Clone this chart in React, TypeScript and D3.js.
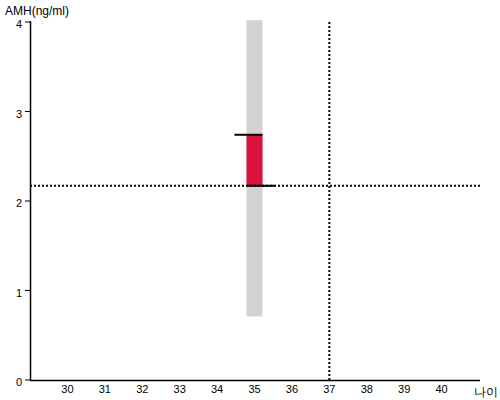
import React from "react";
import * as d3 from "d3";

const xTicks = [30, 31, 32, 33, 34, 35, 36, 37, 38, 39, 40];
const yTicks = [0, 1, 2, 3, 4];
const rangeAge = [35];
const rangeLow = [0.71];
const rangeHigh = [4.02];
const userAge = [35];
const userValue = [2.74];
const medianValue = [2.17];
const refAge = [37];
const xLabel = "나이";
const yLabel = "AMH(ng/ml)";

export default function App() {
  const W = 500, H = 400;
  const x = d3.scaleLinear().domain([29, 41]).range([30, 479]);
  const y = d3.scaleLinear().domain([0, 4]).range([380, 22]);
  const bw = 16;
  const font = "Arial, 'Liberation Sans', sans-serif";
  return (
    <svg width={W} height={H} style={{ position: "absolute", left: 0, top: 0, background: "#fff" }} fontFamily={font}>
      {rangeAge.map((a, i) => (
        <rect key={"g" + i} x={x(a) - bw / 2} y={y(rangeHigh[i])} width={bw} height={y(rangeLow[i]) - y(rangeHigh[i])} fill="#d3d3d3" />
      ))}
      {userAge.map((a, i) => (
        <g key={"u" + i}>
          <rect x={x(a) - bw / 2} y={y(userValue[i])} width={bw} height={y(medianValue[i]) - y(userValue[i])} fill="#dc143c" />
          <line x1={x(a) - bw / 2 - 12} x2={x(a) + bw / 2} y1={y(userValue[i])} y2={y(userValue[i])} stroke="#000" strokeWidth={2} />
          <line x1={x(a) - bw / 2} x2={x(a) + bw / 2 + 13} y1={y(medianValue[i])} y2={y(medianValue[i])} stroke="#000" strokeWidth={2} />
        </g>
      ))}
      {medianValue.map((v, i) => (
        <line key={"h" + i} x1={30} x2={480} y1={y(v)} y2={y(v)} stroke="#000" strokeWidth={2} strokeDasharray="2,2" />
      ))}
      {refAge.map((a, i) => (
        <line key={"v" + i} x1={x(a)} x2={x(a)} y1={y(4)} y2={y(0)} stroke="#000" strokeWidth={2} strokeDasharray="2,2" />
      ))}
      <line x1={30.5} x2={30.5} y1={21} y2={380} stroke="#000" strokeWidth={1.5} />
      <line x1={30} x2={480} y1={380.5} y2={380.5} stroke="#000" strokeWidth={1.5} />
      {yTicks.map((t) => (
        <g key={"yt" + t}>
          <line x1={25} x2={30} y1={y(t)} y2={y(t)} stroke="#000" strokeWidth={1} />
          <text x={22} y={y(t) + 6} fontSize={11} textAnchor="end" fill="#000">{t}</text>
        </g>
      ))}
      {xTicks.map((t) => (
        <text key={"xt" + t} x={x(t)} y={393} fontSize={11} textAnchor="middle" fill="#000">{t}</text>
      ))}
      <text x={5} y={15} fontSize={12} fill="#000">{yLabel}</text>
      <text x={474} y={396} fontSize={12} fill="#000">{xLabel}</text>
    </svg>
  );
}
